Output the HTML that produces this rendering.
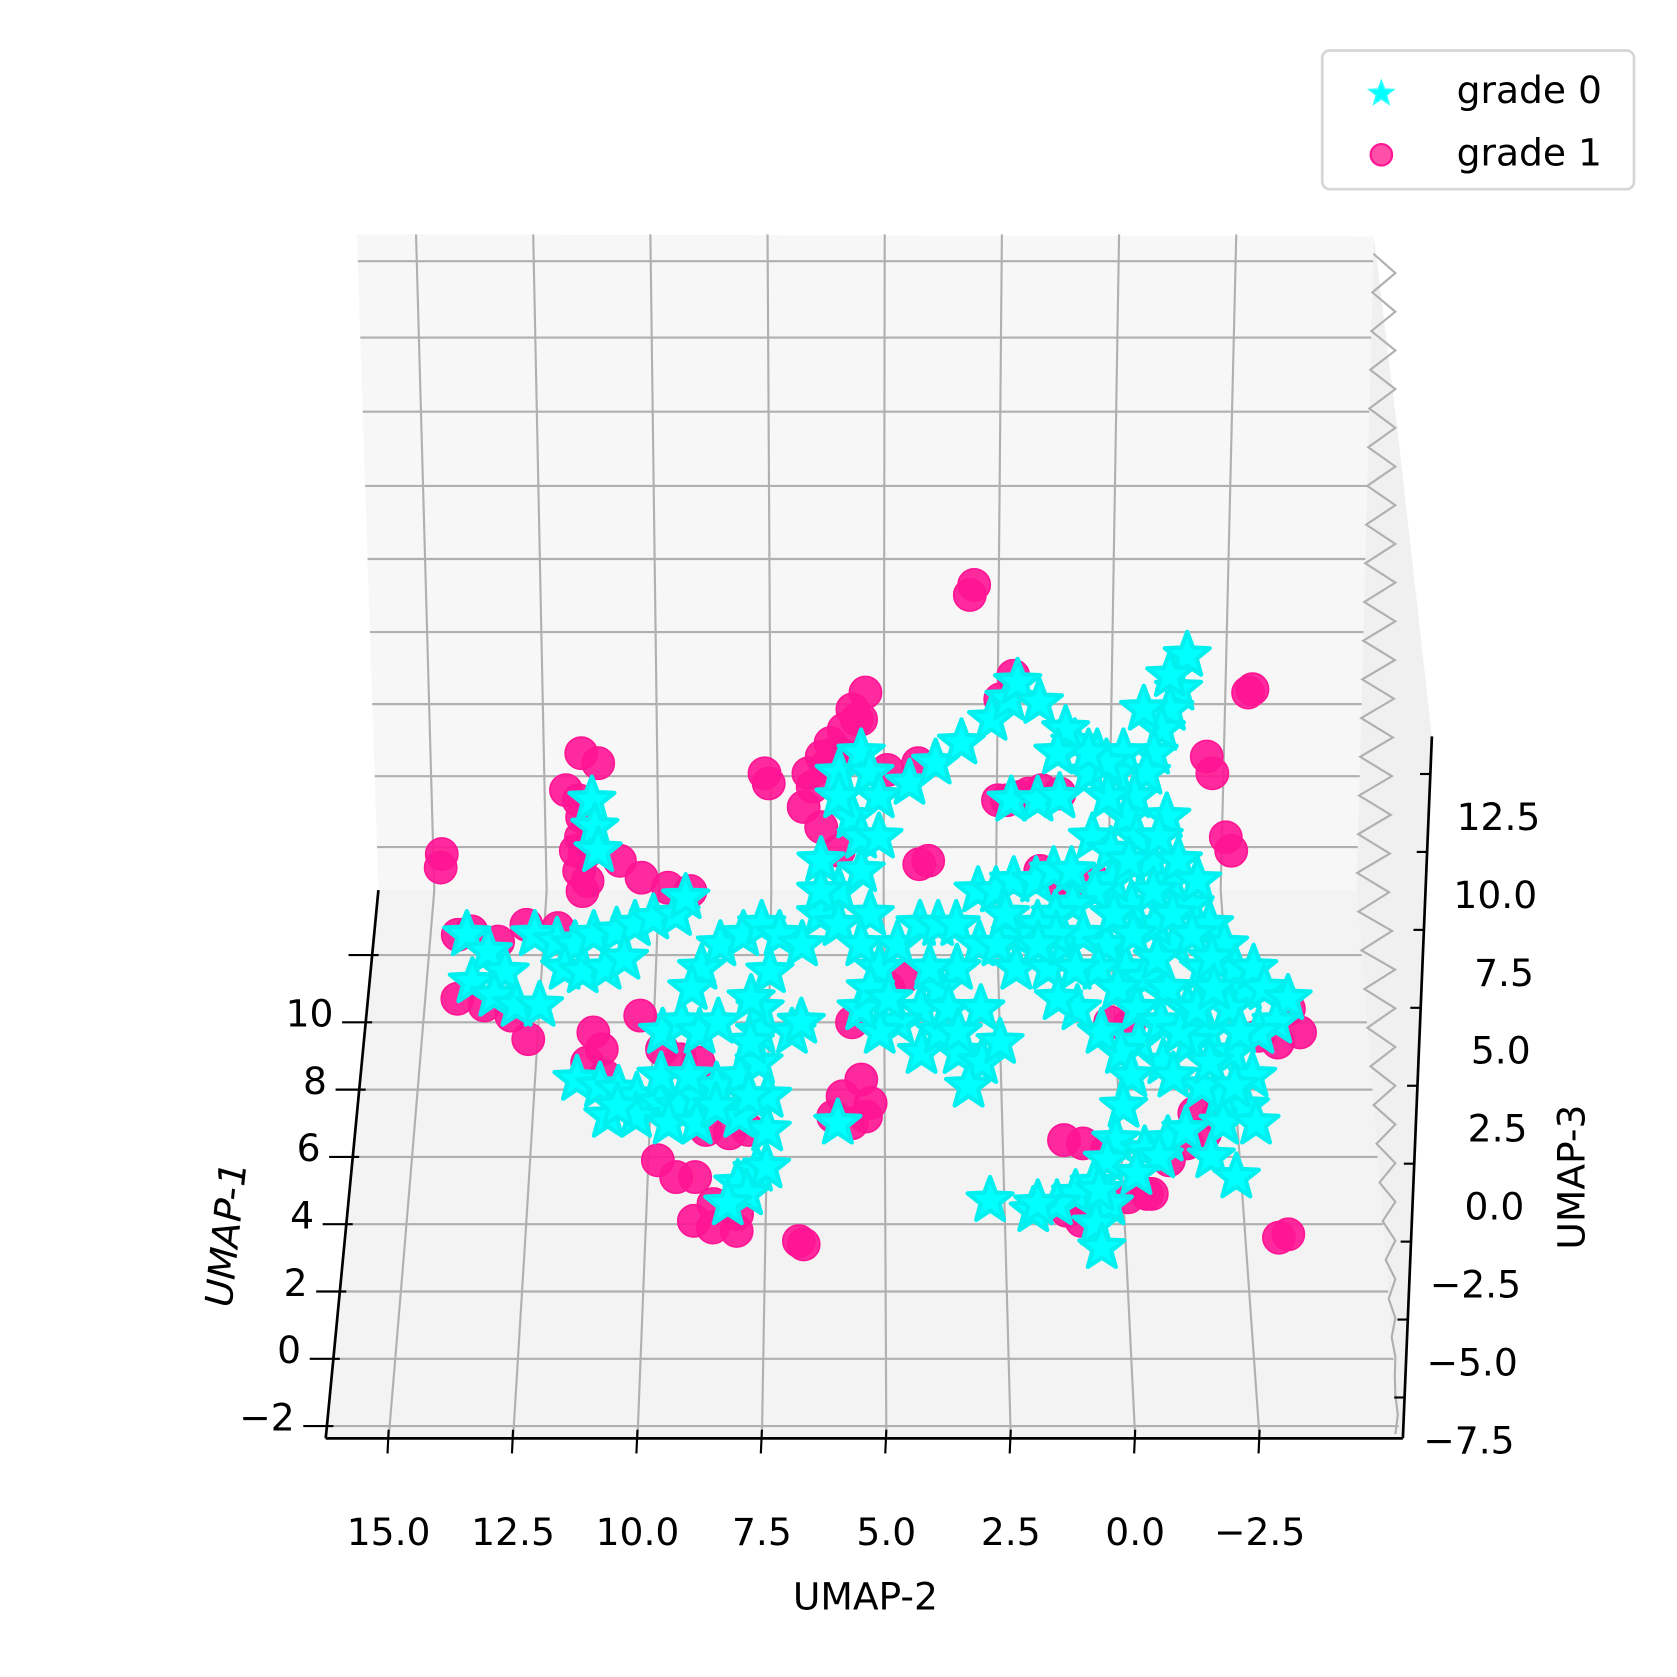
<!DOCTYPE html>
<html><head><meta charset="utf-8"><style>
html,body{margin:0;padding:0;background:#fff;}
svg{display:block;}
text{font-family:"DejaVu Sans","Liberation Sans",sans-serif;fill:#000;}
</style></head><body>
<svg id="chart" width="1677" height="1677" viewBox="0 0 1560 1560" xmlns="http://www.w3.org/2000/svg">
<g id="panes"></g>
<g id="grid"></g>
<g id="marks"></g>
<g id="axes"></g>
<g id="legend"></g>
</svg>
<script>
// ---- data ----
const xTicks = [15.0, 12.5, 10.0, 7.5, 5.0, 2.5, 0.0, -2.5];
const xTickLabels = ["15.0","12.5","10.0","7.5","5.0","2.5","0.0","\u22122.5"];
const yTicks = [12, 10, 8, 6, 4, 2, 0, -2];
const yTickLabels = ["","10","8","6","4","2","0","\u22122"];
const zTicks = [12.5, 10.0, 7.5, 5.0, 2.5, 0.0, -2.5, -5.0, -7.5];
const zTickLabels = ["12.5","10.0","7.5","5.0","2.5","0.0","\u22122.5","\u22125.0","\u22127.5"];
const seriesNames = ["grade 0","grade 1"];
// grade 1 (pink circles): UMAP-2, UMAP-1
const g1u2 = [14.9,14.9,3.0,2.9,-3.4,-3.5,-3.2,-3.4,6.8,6.7,8.1,7.7,7.6,12.2,11.9,11.5,-2.4,-2.5,-2.7,-2.8,
14.4,14.1,13.5,12.9,12.2,14.3,13.7,13.1,12.7,11.8,11.8,11.9,11.8,11.7,10.9,10.4,9.8,9.3,11.3,11.1,11.4,11.0,
10.3,9.8,9.4,9.0,8.8,8.3,7.9,9.8,9.4,9.0,8.6,8.1,6.2,5.7,5.4,6.4,6.7,6.1,5.5,6.8,6.4,6.0,5.7,5.5,5.9,5.3,5.4,5.7,6.1,
4.9,4.6,4.2,4.0,2.4,1.9,1.4,1.5,1.2,0.8,0.3,-0.3,0.1,1.2,0.8,0.3,1.2,0.6,-0.1,-0.5,-1.0,-1.4,-1.8,-3.8,-4.0,-3.1,-3.5,
-1.6,-2.1,4.9,4.2,2.3,2.0,
5.9,5.6,6.0,6.3,6.6,11.7,11.6,11.9,2.2,1.7,1.0,9.0,8.6,0.9,0.4,-0.6];
const g1u1 = [15.0,14.6,22.7,23.0,19.8,19.9,3.6,3.7,3.5,3.4,3.8,17.4,17.1,16.9,18.0,17.7,17.9,17.4,15.5,15.1,
12.6,12.7,12.4,12.9,12.8,10.7,10.5,10.2,9.5,16.1,15.5,15.1,14.5,13.9,14.8,14.3,14.0,13.9,9.7,9.2,8.8,8.4,
10.2,9.2,8.9,8.8,6.8,6.7,6.8,5.9,5.4,5.4,4.6,4.3,18.3,19.3,19.8,17.9,17.4,18.0,19.0,16.4,15.8,15.1,10.0,8.3,7.8,7.6,7.2,7.0,7.2,
11.0,11.3,14.7,14.8,16.6,16.7,16.9,14.5,14.2,13.9,14.2,9.9,10.0,6.5,6.4,6.2,4.4,4.4,4.8,4.9,5.9,6.4,6.7,10.4,9.7,9.6,9.4,
7.3,7.2,17.5,17.7,19.6,20.3,
18.7,19.0,18.0,17.6,17.0,15.0,14.2,16.6,16.6,16.8,16.8,4.1,3.9,4.1,4.5,4.9];
// grade 0 (cyan stars): UMAP-2, UMAP-1
const g0u2 = [14.2,13.7,13.3,14.0,13.5,13.0,12.5,12.7,12.2,11.8,11.4,10.9,10.5,10.1,9.6,9.4,11.6,11.5,11.4,12.0,11.6,11.1,10.7,
11.6,11.1,10.7,10.3,9.8,9.4,9.0,8.6,8.1,7.7,7.7,7.7,7.9,7.5,7.5,8.1,10.9,10.3,9.6,9.0,8.1,7.7,7.9,8.3,7.5,
9.0,8.6,8.1,7.7,7.3,6.8,6.4,6.0,5.5,5.3,9.8,9.4,9.0,8.6,9.2,
6.4,6.0,5.5,5.1,4.7,4.2,3.8,3.4,2.9,3.4,3.8,4.2,4.7,5.1,4.2,3.8,3.4,2.9,2.5,3.2,5.5,5.3,
6.0,5.5,5.3,5.1,5.7,5.5,5.1,6.4,6.0,4.4,3.8,3.2,2.5,2.1,1.9,
-2.0,-1.8,-1.6,-1.4,-1.2,-1.0,-0.7,-0.5,-0.3,0.1,0.6,0.8,-0.1,0.3,-0.7,-1.0,-1.4,-1.8,-2.2,-2.5,-2.7,-2.9,-3.1,-2.0,-1.4,-1.0,-0.5,-0.1,
0.3,0.8,1.2,1.6,2.1,2.5,2.1,1.4,1.0,0.6,0.1,-0.3,-0.7,-1.2,-1.6,-2.0,-2.5,-2.9,-2.7,-2.2,-1.8,-1.0,-0.5,-0.1,0.3,0.8,1.2,
-1.6,-2.5,-3.3,-3.8,-3.5,-3.1,
-0.3,-0.1,0.1,0.3,0.6,1.0,1.4,1.9,0.3,0.6,0.5,-0.5,-1.0,-1.4,-2.2,
2.9,2.5,2.1,1.6,1.2,0.8,2.3,2.1,1.5,1.0,1.4,6.0,7.0,6.8,
0.3,-0.1,-0.5,-1.4,-1.2,-1.6,-2.0,-1.0,-1.4,-1.8,-2.2,-0.1,-0.5,-1.0,0.3,-0.1,-0.5,-1.0,-1.4,-1.8,-2.2,1.2,0.8,1.6,-1.2,-2.0,-2.5,-2.7,-2.9,
4.0,3.6,2.9,3.4,4.9,
10.7,9.8,9.2,8.6,7.9,7.9,7.5,
-1.6,-1.0,-0.5,-0.1,0.3,1.0,-0.8,-0.3,0.5,1.8,2.8,-1.9,-2.4];
const g0u1 = [12.6,12.1,11.5,11.2,10.8,10.5,10.5,12.6,12.4,12.3,12.6,12.7,12.9,13.1,13.2,13.7,16.6,15.8,15.1,11.6,11.5,11.6,11.9,
8.3,8.1,8.0,7.8,7.6,7.5,7.8,8.1,8.4,8.8,9.7,10.4,9.4,7.8,6.8,7.2,7.2,7.2,7.0,7.0,5.2,5.6,4.9,4.6,5.7,
11.6,12.3,12.6,12.9,12.6,12.3,13.2,13.9,14.5,13.2,9.7,10.0,9.7,10.0,11.0,
13.9,12.9,12.3,11.6,12.3,12.9,12.9,12.9,12.3,11.6,11.0,10.4,10.0,9.7,9.1,9.7,9.1,8.8,9.4,8.1,10.4,11.0,
17.4,18.0,17.4,16.7,16.1,15.5,15.5,14.8,16.7,17.1,17.7,18.3,19.0,19.6,20.1,
20.9,19.9,19.3,18.7,18.0,17.4,16.7,16.1,17.4,18.0,18.3,18.7,16.7,17.4,15.5,14.8,14.2,13.5,12.9,12.3,11.6,11.0,11.6,11.6,12.3,12.9,13.5,14.2,
13.9,13.5,13.2,12.9,12.6,12.3,11.6,11.6,12.3,12.6,12.3,11.6,11.3,11.0,10.4,9.7,9.1,8.4,7.5,7.8,8.1,8.8,9.4,9.1,9.7,10.4,10.7,
9.4,10.4,11.0,10.7,10.0,9.7,
8.4,7.5,6.5,5.9,5.2,4.9,4.6,4.4,4.6,4.0,3.3,6.2,6.5,6.8,7.0,
13.9,13.9,14.2,14.2,14.5,14.5,13.2,16.6,16.6,16.7,19.5,7.0,9.7,10.0,
15.5,15.1,14.8,16.1,15.5,14.8,14.2,13.9,13.2,12.6,11.9,13.2,12.6,11.9,11.6,11.0,10.4,10.0,9.7,10.4,11.0,12.6,11.6,12.3,8.4,8.8,8.1,9.7,7.0,
11.6,10.4,10.4,9.7,10.7,
7.5,8.4,8.4,7.5,7.8,10.7,11.5,
20.3,19.3,18.0,17.7,18.0,18.0,6.0,5.5,5.0,4.6,4.7,6.0,5.4];

// ---- geometry (view projection) ----
const NS = "http://www.w3.org/2000/svg";
const backY = 828, frontY = 1338, topY = 218;
function frontX(u2){ return 1056 - 46.3*u2; }
function backX(u2){ return 1031 - 41.8*u2; }
function topX(u2){ return 1041 - 43.6*u2; }
function yScale(u1){ return 1264 - 31.3*u1; }
function xScale(u2, u1){
  const y = yScale(u1);
  const t = Math.max(-0.3, Math.min(1.2, (y - backY)/(frontY - backY)));
  return backX(u2) + (frontX(u2) - backX(u2))*t;
}
function zScale(z){ return 1340 - (z + 7.5)*29; }
function leftAxisX(y){ return 352 - (y - 828)*49/510; }
function rightAxisX(y){ return 1332 - (y - 685)*27/653; }
function backLeftX(y){ return 332 + (y - 218)*20/610; }
function backRightX(y){ return 1278 - (y - 220)*16/608; }
function floorRightX(y){ return 1262 + (y - 828)*40/510; }

function mk(tag, attrs, parent){
  const e = document.createElementNS(NS, tag);
  for (const k in attrs) e.setAttribute(k, attrs[k]);
  parent.appendChild(e);
  return e;
}
const panes = document.getElementById('panes');
const grid = document.getElementById('grid');
const marks = document.getElementById('marks');
const axes = document.getElementById('axes');
const legend = document.getElementById('legend');

let p = mk('polygon', {points:`332,218 1278,220 1262,828 352,828`, fill:'#f7f7f7'}, panes);


p = mk('polygon', {points:`352,828 1262,828 1302,1338 303,1338`, fill:'#f3f3f3'}, panes);


p = mk('polygon', {points:`1278,220 1300,400 1332,685 1305,1338 1302,1338 1262,828`, fill:'#f0f0f0'}, panes);



const gc = '#b0b0b0', gw = 2;
const backLines = [243,314,383,452,520,588,655,722,788];
backLines.forEach(y => {
  const l = mk('line', {x1:backLeftX(y), y1:y, x2:backRightX(y), y2:y, stroke:gc, 'stroke-width':gw}, grid);
  
  
});
xTicks.forEach(v => {
  const l = mk('polyline', {points:`${topX(v)},${topY} ${backX(v)},${backY} ${frontX(v)},${frontY}`, fill:'none', stroke:gc, 'stroke-width':gw}, grid);
  
  
});
yTicks.forEach(v => {
  const y = yScale(v);
  if (y > frontY - 5) return;
  const l = mk('line', {x1:leftAxisX(y), y1:y, x2:floorRightX(y), y2:y, stroke:gc, 'stroke-width':gw}, grid);
  
  
});
// side pane zigzag grid
let zz = [];
for (let y = 236, i = 0; y < 1335; y += 18, i++) {
  const left = y < 828 ? backRightX(y) : floorRightX(y);
  const right = Math.min(1298, left + 30);
  zz.push(`${(i % 2 ? right : left).toFixed(1)},${y}`);
}
const zl = mk('polyline', {points:zz.join(' '), fill:'none', stroke:gc, 'stroke-width':gw}, grid);



function starPath(cx, cy, R){
  const r = R*0.42; let d = '';
  for (let i = 0; i < 10; i++) {
    const a = -Math.PI/2 + i*Math.PI/5, rr = i % 2 ? r : R;
    d += (i ? 'L' : 'M') + (cx + rr*Math.cos(a)).toFixed(1) + ',' + (cy + rr*Math.sin(a)).toFixed(1);
  }
  return d + 'Z';
}
const g1 = mk('g', {}, marks);


g1u2.forEach((v, i) => {
  const c = mk('circle', {cx:xScale(v, g1u1[i]), cy:yScale(g1u1[i]), r:15, fill:'#ff1493', 'fill-opacity':0.9, stroke:'#ff1493', 'stroke-width':1.5}, g1);
  
  
});
const g0 = mk('g', {}, marks);


g0u2.forEach((v, i) => {
  const s = mk('path', {d:starPath(xScale(v, g0u1[i]), yScale(g0u1[i]), 22), fill:'#00ffff', stroke:'#00f0f0', 'stroke-width':4, 'stroke-linejoin':'round'}, g0);
  
  
});

const FS = 35;
let a = mk('line', {x1:352, y1:828, x2:303, y2:1338, stroke:'#000', 'stroke-width':2.5}, axes);


a = mk('line', {x1:303, y1:1338, x2:1305, y2:1338, stroke:'#000', 'stroke-width':2.5}, axes);


a = mk('line', {x1:1332, y1:685, x2:1305, y2:1338, stroke:'#000', 'stroke-width':2.5}, axes);



xTicks.forEach((v, i) => {
  const x = frontX(v);
  const t = mk('line', {x1:x, y1:1330, x2:x-1, y2:1352, stroke:'#000', 'stroke-width':2}, axes);
  
  
  const tx = mk('text', {x:x, y:1437, 'text-anchor':'middle', 'font-size':FS}, axes);
  tx.textContent = xTickLabels[i];
  
  
});
yTicks.forEach((v, i) => {
  const y = yScale(v), x = leftAxisX(y);
  if (y < frontY - 5) {
    const t = mk('line', {x1:x-22, y1:y, x2:x+6, y2:y, stroke:'#000', 'stroke-width':2}, axes);
    
    
  }
  const tx = mk('text', {x:x-30, y:y+4, 'text-anchor':'end', 'font-size':FS}, axes);
  tx.textContent = yTickLabels[i];
  
  
});
zTicks.forEach((v, i) => {
  const y = zScale(v), x = rightAxisX(y);
  const t = mk('line', {x1:x-8, y1:y-40, x2:x+2, y2:y-40, stroke:'#000', 'stroke-width':2}, axes);
  
  
  const tx = mk('text', {x:x+104, y:y+12, 'text-anchor':'end', 'font-size':FS}, axes);
  tx.textContent = zTickLabels[i];
  
  
});
let tt = mk('text', {x:805, y:1497, 'text-anchor':'middle', 'font-size':FS}, axes);
tt.textContent = 'UMAP-2';


tt = mk('text', {x:0, y:0, 'text-anchor':'middle', 'font-size':FS, transform:'translate(222,1152) rotate(-84) skewX(-10)'}, axes);
tt.textContent = 'UMAP-1';


tt = mk('text', {x:0, y:0, 'text-anchor':'middle', 'font-size':FS, transform:'translate(1474,1095) rotate(-90)'}, axes);
tt.textContent = 'UMAP-3';



const lb = mk('rect', {x:1230, y:47, width:290, height:129, rx:7, fill:'#fff', stroke:'#d6d6d6', 'stroke-width':2.5}, legend);


const ls = mk('path', {d:starPath(1285, 87, 12), fill:'#00ffff', stroke:'#33ffff', 'stroke-width':1.5}, legend);


const lc = mk('circle', {cx:1285, cy:144, r:10, fill:'#ff4fa8', stroke:'#ff1493', 'stroke-width':2}, legend);


seriesNames.forEach((n, i) => {
  const t = mk('text', {x:1355, y:96 + i*58, 'font-size':FS}, legend);
  t.textContent = n;
  
  
});
</script>
</body></html>
